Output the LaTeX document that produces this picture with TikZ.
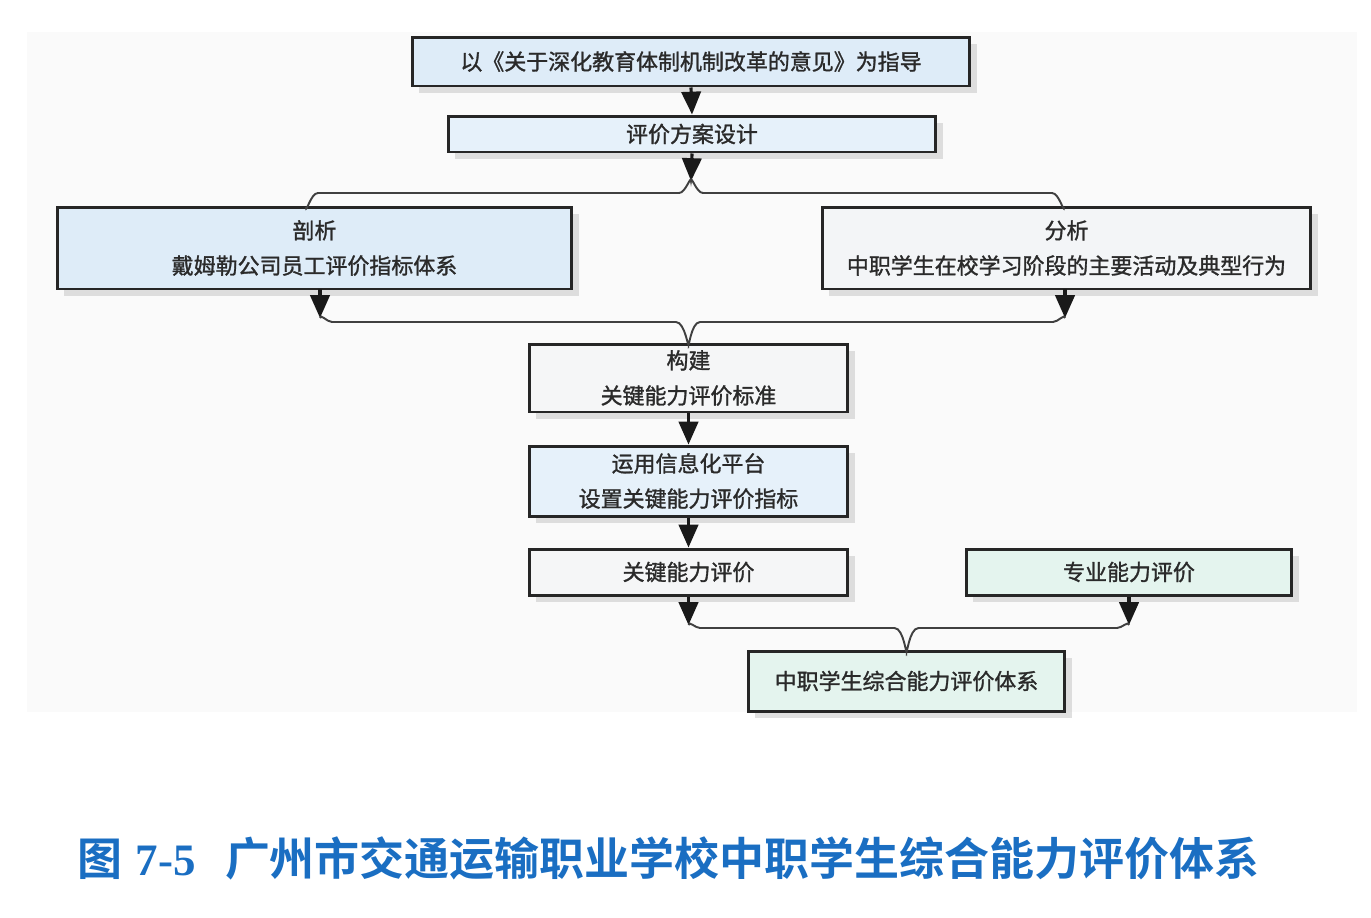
\documentclass[tikz,border=0pt]{standalone}
\usepackage{fontspec}
\newfontfamily\cjk[BoldFont={Noto Sans CJK SC Bold}]{Noto Sans CJK SC}
\newfontfamily\cjkm[FakeBold=1.3]{Noto Sans CJK SC}
\newfontfamily\serifb{Liberation Serif}
\usetikzlibrary{arrows.meta,shadows}
\definecolor{bgc}{HTML}{FAFAFA}
\definecolor{fblue}{HTML}{DEECF8}
\definecolor{fblueb}{HTML}{E6F1FA}
\definecolor{fgray}{HTML}{F3F5F7}
\definecolor{fwhite}{HTML}{F5F6F7}
\definecolor{fmint}{HTML}{E4F4EE}
\definecolor{txt}{HTML}{2A2A2A}
\definecolor{capblue}{HTML}{1A6EC2}
\tikzset{
  box/.style={draw=black!85, line width=1.7pt, inner sep=0pt, align=center,
    text=txt, font=\cjkm\fontsize{12.5}{20}\selectfont,
    drop shadow={shadow xshift=4pt, shadow yshift=-4pt, fill=black!30, opacity=0.4}},
  arr/.style={line width=1.8pt, -{Triangle[width=11pt,length=13pt]}, black!90},
  brace/.style={line width=1.1pt, black!75}
}
\begin{document}
\begin{tikzpicture}[x=0.02cm,y=-0.02cm]
\useasboundingbox (0,0) rectangle (1371,917);
\fill[bgc] (27,32) rectangle (1357,712);

\node[box, fill=fblue, minimum width=11.16cm, minimum height=0.98cm] (b1) at (691,61.5) {以《关于深化教育体制机制改革的意见》为指导};
\node[box, fill=fblueb, minimum width=9.76cm, minimum height=0.72cm] (b2) at (692,134) {评价方案设计};
\node[box, fill=fblue, minimum width=10.3cm, minimum height=1.64cm] (b3) at (314.5,248) {剖析\\戴姆勒公司员工评价指标体系};
\node[box, fill=fgray, minimum width=9.78cm, minimum height=1.64cm] (b4) at (1066.5,248) {分析\\中职学生在校学习阶段的主要活动及典型行为};
\node[box, fill=fwhite, minimum width=6.38cm, minimum height=1.36cm] (b5) at (688.5,378) {构建\\关键能力评价标准};
\node[box, fill=fblueb, minimum width=6.38cm, minimum height=1.4cm] (b6) at (688.5,481) {运用信息化平台\\设置关键能力评价指标};
\node[box, fill=fwhite, minimum width=6.38cm, minimum height=0.92cm] (b7) at (688.5,572) {关键能力评价};
\node[box, fill=fmint, minimum width=6.52cm, minimum height=0.92cm] (b8) at (1129,572) {专业能力评价};
\node[box, fill=fmint, minimum width=6.34cm, minimum height=1.2cm] (b9) at (906.5,681) {中职学生综合能力评价体系};

% arrows
\draw[arr] (b1.south) -- (b2.north);
\coordinate (t1) at (691,181);
\draw[arr] (b2.south) -- (t1);
\draw[arr] (b5.south) -- (b6.north);
\draw[arr] (b6.south) -- (b7.north);

% brace 1
\coordinate (L1) at (306,207);
\coordinate (R1) at (1064,207);
\draw[brace] (L1) to[out=-90,in=180] (318,193) -- (679,193) to[out=0,in=90] (t1)
  to[out=90,in=180] (703,193) -- (1052,193) to[out=0,in=-90] (R1);

% brace 2
\coordinate (a3) at (320,318);
\coordinate (a4) at (1065,318);
\draw[arr] (320,289) -- (a3);
\draw[arr] (1065,289) -- (a4);
\draw[brace] (a3) to[out=90,in=180] (332,322) -- (676,322) to[out=0,in=-90] (b5.north)
  to[out=-90,in=180] (700,322) -- (1053,322) to[out=0,in=90] (a4);

% brace 3
\coordinate (a7) at (688.5,625);
\coordinate (a8) at (1129,625);
\draw[arr] (b7.south) -- (a7);
\draw[arr] (b8.south) -- (a8);
\draw[brace] (a7) to[out=90,in=180] (700,628) -- (894.5,628) to[out=0,in=-90] (b9.north)
  to[out=-90,in=180] (918.5,628) -- (1117,628) to[out=0,in=90] (a8);

% caption
\node[anchor=west, text=capblue, inner sep=0pt] (cap) at (77,858)
  {\fontsize{25.6}{30}\selectfont\cjk\bfseries 图\hspace{0.3em}{\serifb\bfseries 7-5}\hspace{0.65em}广州市交通运输职业学校中职学生综合能力评价体系};
\end{tikzpicture}
\end{document}
